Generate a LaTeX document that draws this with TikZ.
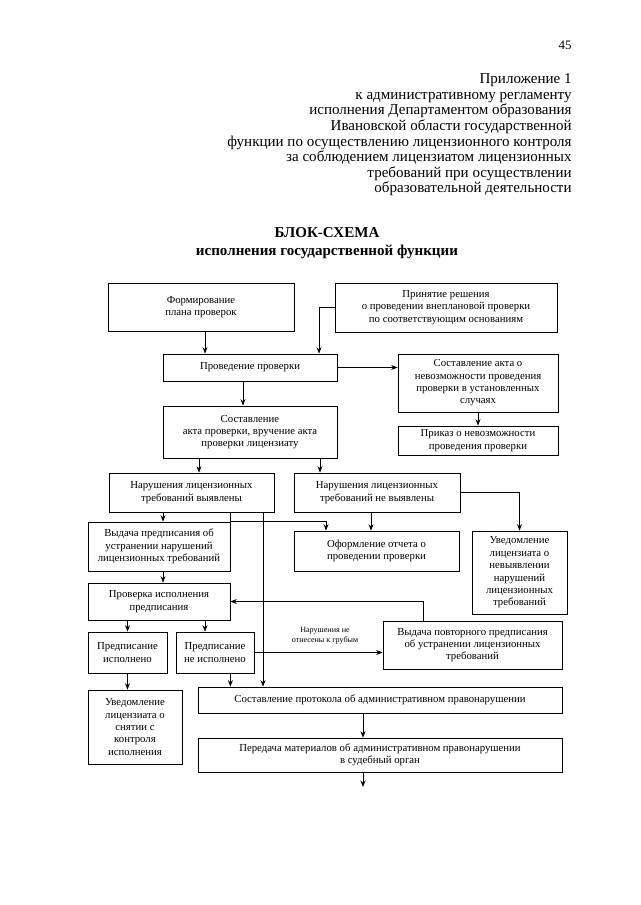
\documentclass[tikz,border=0pt]{standalone}
\usepackage{fontspec}
\setmainfont{Liberation Serif}
\usetikzlibrary{arrows.meta}

\begin{document}
\begin{tikzpicture}[->,line width=0.7pt,>={Stealth[length=6pt,width=4.6pt]},x=0.9302pt,y=-0.9302pt]
    \tikzstyle{flowbox}=[draw=black, rectangle, align=center, inner sep=1pt, font=\fontsize{10}{11.5}\selectfont, text=black]
    \tikzstyle{headtext}=[align=right, inner sep=0pt, font=\fontsize{14}{14.5}\selectfont]
    \tikzstyle{notelabel}=[align=center, inner sep=0pt, font=\fontsize{7.5}{9}\selectfont]

    \useasboundingbox (0,0) rectangle (640,905);

    % page header
    \node[headtext, anchor=east, font=\fontsize{12}{14}\selectfont] (page) at (572,45) {45};
    \node[headtext, anchor=east] (app) at (572,135) {Приложение 1\\к административному регламенту\\исполнения Департаментом образования\\Ивановской области государственной\\функции по осуществлению лицензионного контроля\\за соблюдением лицензиатом лицензионных\\требований при осуществлении\\образовательной деятельности};
    \node[align=center, inner sep=0pt, font=\fontsize{14}{17}\selectfont\bfseries] (title) at (327,243) {БЛОК-СХЕМА\\исполнения государственной функции};

    % boxes
    \node[flowbox, minimum width=173pt, minimum height=44.6pt] (plan)     at (201,307)   {Формирование\\плана проверок};
    \node[flowbox, minimum width=206.5pt, minimum height=45.6pt] (unplan) at (446,307.5) {Принятие решения\\о проведении внеплановой проверки\\по соответствующим основаниям};
    \node[flowbox, minimum width=161.9pt, minimum height=25.1pt] (conduct) at (250,367.5) {Проведение проверки};
    \node[flowbox, minimum width=148.8pt, minimum height=54pt] (impos)    at (478,383)   {Составление акта о\\невозможности проведения\\проверки в установленных\\случаях};
    \node[flowbox, minimum width=148.8pt, minimum height=27pt] (order)    at (478,440.5) {Приказ о невозможности\\проведения проверки};
    \node[flowbox, minimum width=161.9pt, minimum height=48.4pt] (act)    at (250,432)   {Составление\\акта проверки, вручение акта\\проверки лицензиату};
    \node[flowbox, minimum width=153.5pt, minimum height=36.3pt] (found)  at (191.5,492.5) {Нарушения лицензионных\\требований выявлены};
    \node[flowbox, minimum width=154.4pt, minimum height=36.3pt] (notfound) at (377,492.5) {Нарушения лицензионных\\требований не выявлены};
    \node[flowbox, minimum width=132.1pt, minimum height=45.6pt] (prescr) at (159,546.5) {Выдача предписания об\\устранении нарушений\\лицензионных требований};
    \node[flowbox, minimum width=153.5pt, minimum height=37.2pt] (report) at (376.5,551) {Оформление отчета о\\проведении проверки};
    \node[flowbox, minimum width=88.4pt, minimum height=77.2pt] (notify1) at (519.5,572.5) {Уведомление\\лицензиата о\\невыявлении\\нарушений\\лицензионных\\требований};
    \node[flowbox, minimum width=132.1pt, minimum height=34.4pt] (check)  at (159,601.5) {Проверка исполнения\\предписания};
    \node[flowbox, minimum width=73.5pt, minimum height=38.1pt] (done)    at (127.5,652.5) {Предписание\\исполнено};
    \node[flowbox, minimum width=72.6pt, minimum height=38.1pt] (notdone) at (215,652.5) {Предписание\\не исполнено};
    \node[flowbox, minimum width=166.5pt, minimum height=44.6pt] (repeat) at (472.5,645) {Выдача повторного предписания\\об устранении лицензионных\\требований};
    \node[flowbox, minimum width=87.4pt, minimum height=68.8pt] (notify2) at (135,727) {Уведомление\\лицензиата о\\снятии с\\контроля\\исполнения};
    \node[flowbox, minimum width=338.6pt, minimum height=24.2pt] (protocol) at (380,700) {Составление протокола об административном правонарушении};
    \node[flowbox, minimum width=338.6pt, minimum height=31.6pt] (transfer) at (380,755) {Передача материалов об административном правонарушении\\в судебный орган};
    \node[notelabel] (minor) at (325,636) {Нарушения не\\отнесены к грубым};

    % lanes of the vertical connectors
    \coordinate (xplan)     at (205,0);
    \coordinate (xunplan)   at (319,0);
    \coordinate (xact)      at (243,0);
    \coordinate (xfound)    at (199,0);
    \coordinate (xnotfound) at (320,0);
    \coordinate (xprescr)   at (163,0);
    \coordinate (xreport)   at (326,0);
    \coordinate (xlong)     at (263,0);
    \coordinate (xnf)       at (371,0);
    \coordinate (xback)     at (423,0);
    \coordinate (xnotdone)  at (205,0);
    \coordinate (xcourt)    at (363,0);
    \coordinate (out)       at (363,787);

    \draw (plan.south -| xplan) -- (conduct.north -| xplan);
    \draw (unplan.west) -| (conduct.north -| xunplan);
    \draw (conduct.east) -- (conduct.east -| impos.west);
    \draw (impos.south) -- (order.north);
    \draw (conduct.south -| xact) -- (act.north -| xact);
    \draw (act.south -| xfound) -- (found.north -| xfound);
    \draw (act.south -| xnotfound) -- (notfound.north -| xnotfound);
    \draw (found.south -| xprescr) -- (prescr.north -| xprescr);
    \draw (found.south -| prescr.north east) -- (prescr.north east) -| (report.north -| xreport);
    \draw (found.south -| xlong) -- (protocol.north -| xlong);
    \draw (notfound.south -| xnf) -- (report.north -| xnf);
    \draw (notfound.east) -| (notify1.north);
    \draw (prescr.south -| xprescr) -- (check.north -| xprescr);
    \draw (repeat.north -| xback) |- (check.east);
    \draw (check.south -| done.north) -- (done.north);
    \draw (check.south -| xnotdone) -- (notdone.north -| xnotdone);
    \draw (notdone.east) -- (notdone.east -| repeat.west);
    \draw (done.south) -- (notify2.north -| done.south);
    \draw (notdone.south -| prescr.east) -- (protocol.north -| prescr.east);
    \draw (protocol.south -| xcourt) -- (transfer.north -| xcourt);
    \draw (transfer.south -| out) -- (out);
  \end{tikzpicture}
\end{document}
